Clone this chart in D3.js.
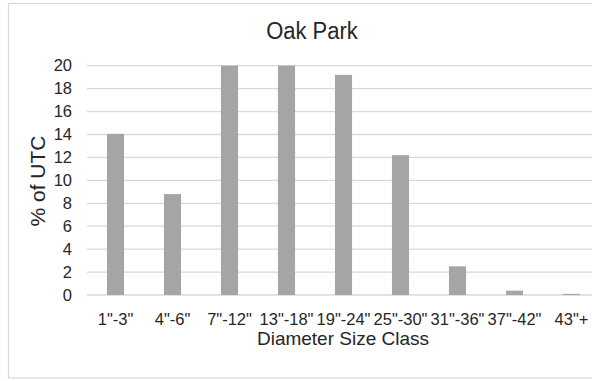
<!DOCTYPE html>
<html>
<head>
<meta charset="utf-8">
<script src="https://cdn.jsdelivr.net/npm/d3@7"></script>
<style>
  body { margin: 0; background: #fff; }
  text { font-family: "Liberation Sans", Arial, sans-serif; fill: #262626; }
</style>
</head>
<body>
<svg id="chart" width="592" height="381"></svg>
<script>
// Data
var categories = ['1"-3"', '4"-6"', '7"-12"', '13"-18"', '19"-24"', '25"-30"', '31"-36"', '37"-42"', '43"+'];
var values = [14.05, 8.8, 20, 20, 19.2, 12.2, 2.5, 0.38, 0.1];
var yTicks = [0, 2, 4, 6, 8, 10, 12, 14, 16, 18, 20];

var width = 592, height = 381;
var plot = { left: 87, right: 600, top: 65.7, bottom: 295 };

var svg = d3.select("#chart");

// Chart border (right edge is cropped off in the reference)
svg.append("rect")
    .attr("x", 8.5).attr("y", 3.5)
    .attr("width", 620).attr("height", 374.5)
    .attr("fill", "none")
    .attr("stroke", "#d9d9d9")
    .attr("stroke-width", 1.2);

var x = d3.scaleBand()
    .domain(categories)
    .range([plot.left, plot.right])
    .paddingInner(0.7)
    .paddingOuter(0.35);

var y = d3.scaleLinear()
    .domain([0, 20])
    .range([plot.bottom, plot.top]);

// Gridlines
svg.append("g")
    .selectAll("line")
    .data(yTicks)
    .enter()
    .append("line")
    .attr("x1", plot.left)
    .attr("x2", plot.right)
    .attr("y1", function(d) { return y(d); })
    .attr("y2", function(d) { return y(d); })
    .attr("stroke", "#d9d9d9")
    .attr("stroke-width", 1.3);

// Bars
svg.append("g")
    .selectAll("rect")
    .data(values)
    .enter()
    .append("rect")
    .attr("x", function(d, i) { return x(categories[i]); })
    .attr("width", x.bandwidth())
    .attr("y", function(d) { return y(d); })
    .attr("height", function(d) { return y(0) - y(d); })
    .attr("fill", "#a5a5a5");

// Y axis labels
var yAxis = d3.axisLeft(y).tickValues(yTicks).tickSize(0).tickPadding(0);
var gy = svg.append("g")
    .attr("transform", "translate(72,0)")
    .call(yAxis);
gy.select(".domain").remove();
gy.selectAll("text")
    .attr("font-size", 16.5)
    .attr("fill", "#262626")
    .style("font-family", "'Liberation Sans', Arial, sans-serif");

// X axis labels
var xAxis = d3.axisBottom(x).tickSize(0).tickPadding(0);
var gx = svg.append("g")
    .attr("transform", "translate(0,325)")
    .call(xAxis);
gx.select(".domain").remove();
gx.selectAll("text")
    .attr("dy", 0)
    .attr("font-size", 16.5)
    .attr("fill", "#262626")
    .style("font-family", "'Liberation Sans', Arial, sans-serif");

// Title
svg.append("text")
    .attr("transform", "translate(312,39) scale(1,1.05)")
    .attr("text-anchor", "middle")
    .attr("font-size", 22)
    .text("Oak Park");

// Axis titles
svg.append("text")
    .attr("x", 343).attr("y", 345)
    .attr("text-anchor", "middle")
    .attr("font-size", 19)
    .text("Diameter Size Class");

svg.append("text")
    .attr("transform", "translate(45,181) rotate(-90)")
    .attr("text-anchor", "middle")
    .attr("font-size", 21)
    .text("% of UTC");
</script>
</body>
</html>
